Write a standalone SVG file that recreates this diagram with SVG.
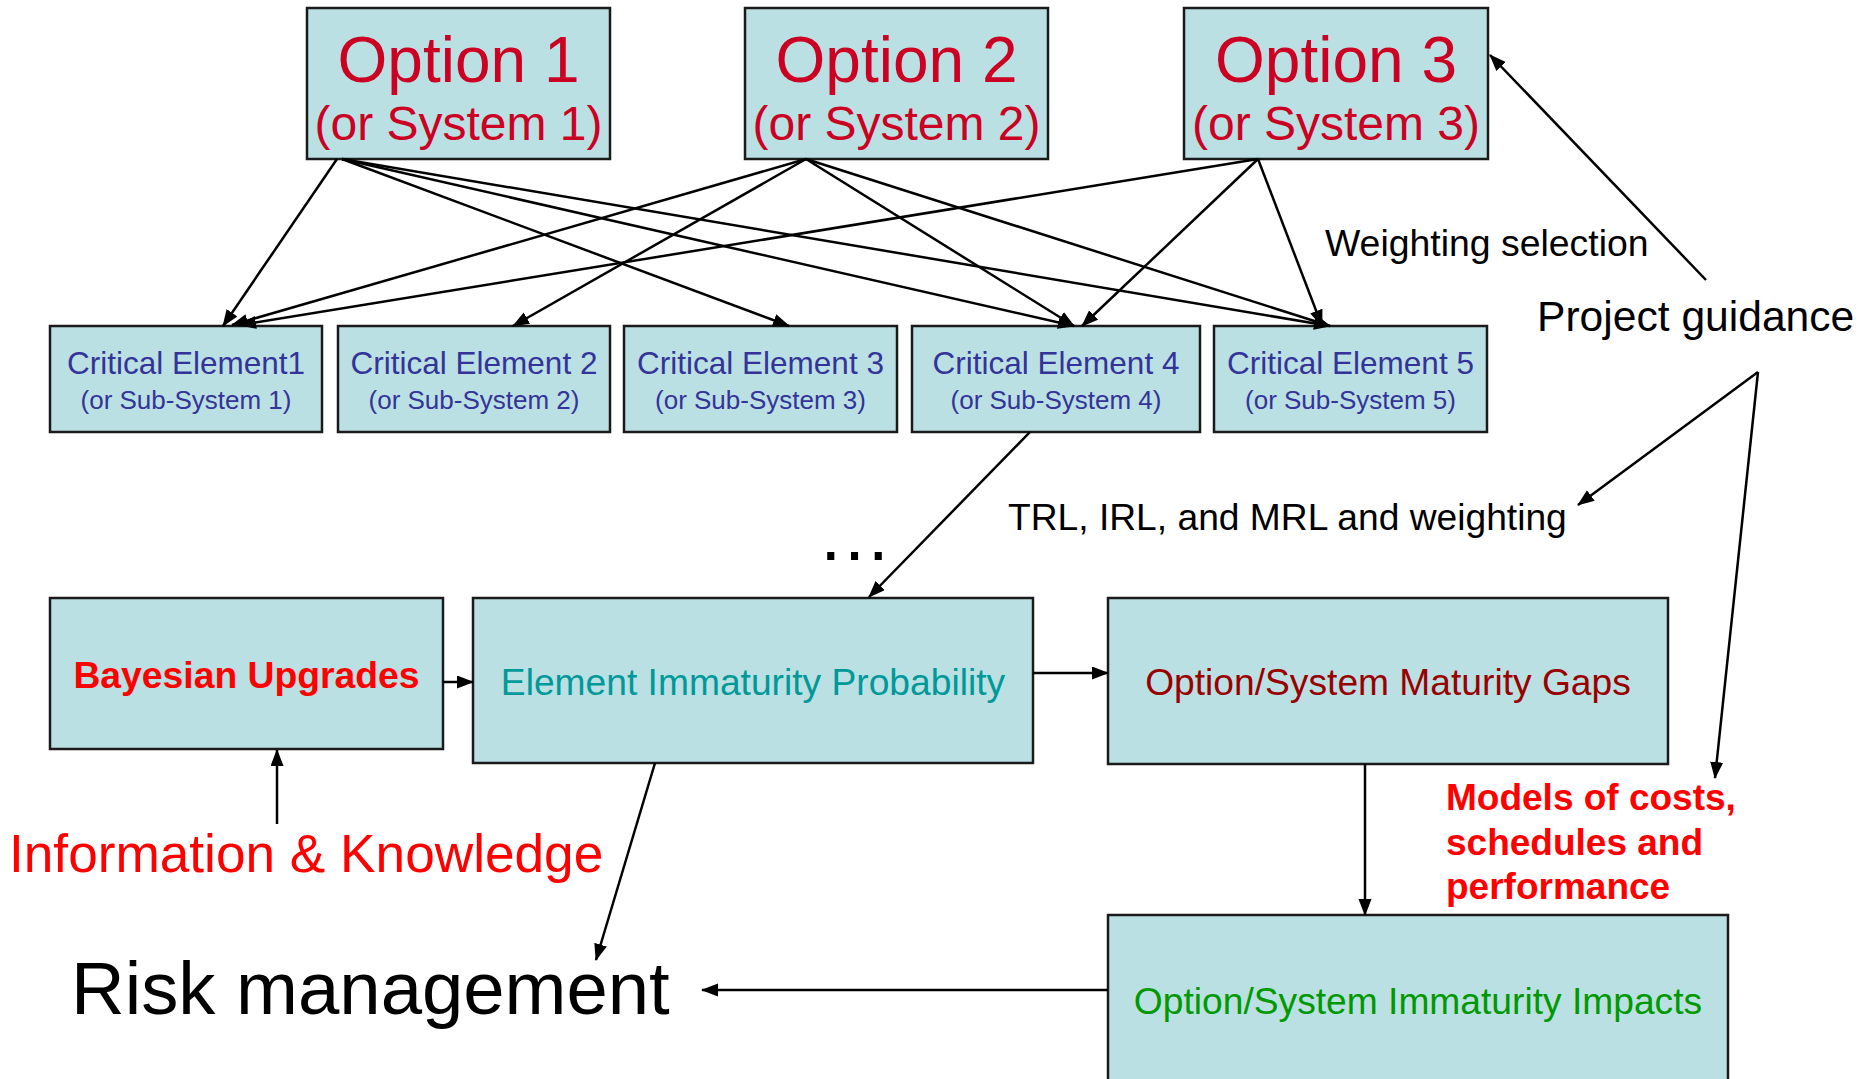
<svg xmlns="http://www.w3.org/2000/svg" width="1864" height="1079" viewBox="0 0 1864 1079">
  <style>
    .box { fill: #BBE0E3; stroke: #1a1a1a; stroke-width: 2.5; }
    .t { font-family: "Liberation Sans", Arial, sans-serif; }
    .opt { fill: #CC0022; text-anchor: middle; }
    .ce { fill: #333399; text-anchor: middle; }
    .lbl { fill: #000000; }
    .conn { stroke: #000000; stroke-width: 2.5; fill: none; marker-end: url(#arrow); }
  </style>
  <defs>
    <marker id="arrow" markerUnits="userSpaceOnUse" markerWidth="18" markerHeight="14" refX="16" refY="6.5" orient="auto">
      <path d="M0,0 L17,6.5 L0,13 z" fill="#000000"/>
    </marker>
  </defs>
  <rect x="0" y="0" width="1864" height="1079" fill="#FFFFFF"/>

  <!-- Options -->
  <g id="option1">
    <rect class="box" x="307" y="8" width="303" height="151"/>
    <text class="t opt" x="458.5" y="82" font-size="64">Option 1</text>
    <text class="t opt" x="458.5" y="140" font-size="48">(or System 1)</text>
  </g>
  <g id="option2">
    <rect class="box" x="745" y="8" width="303" height="151"/>
    <text class="t opt" x="896.5" y="82" font-size="64">Option 2</text>
    <text class="t opt" x="896.5" y="140" font-size="48">(or System 2)</text>
  </g>
  <g id="option3">
    <rect class="box" x="1184" y="8" width="304" height="151"/>
    <text class="t opt" x="1336" y="82" font-size="64">Option 3</text>
    <text class="t opt" x="1336" y="140" font-size="48">(or System 3)</text>
  </g>

  <!-- Critical elements -->
  <g id="ce1">
    <rect class="box" x="50" y="326" width="272" height="106"/>
    <text class="t ce" x="186" y="374" font-size="31.5">Critical Element1</text>
    <text class="t ce" x="186" y="409" font-size="26">(or Sub-System 1)</text>
  </g>
  <g id="ce2">
    <rect class="box" x="338" y="326" width="272" height="106"/>
    <text class="t ce" x="474" y="374" font-size="31.5">Critical Element 2</text>
    <text class="t ce" x="474" y="409" font-size="26">(or Sub-System 2)</text>
  </g>
  <g id="ce3">
    <rect class="box" x="624" y="326" width="273" height="106"/>
    <text class="t ce" x="760.5" y="374" font-size="31.5">Critical Element 3</text>
    <text class="t ce" x="760.5" y="409" font-size="26">(or Sub-System 3)</text>
  </g>
  <g id="ce4">
    <rect class="box" x="912" y="326" width="288" height="106"/>
    <text class="t ce" x="1056" y="374" font-size="31.5">Critical Element 4</text>
    <text class="t ce" x="1056" y="409" font-size="26">(or Sub-System 4)</text>
  </g>
  <g id="ce5">
    <rect class="box" x="1214" y="326" width="273" height="106"/>
    <text class="t ce" x="1350.5" y="374" font-size="31.5">Critical Element 5</text>
    <text class="t ce" x="1350.5" y="409" font-size="26">(or Sub-System 5)</text>
  </g>

  <!-- Process boxes -->
  <g id="bayesian">
    <rect class="box" x="50" y="598" width="393" height="151"/>
    <text class="t" x="246.5" y="688" font-size="37.3" font-weight="bold" fill="#FF0000" text-anchor="middle">Bayesian Upgrades</text>
  </g>
  <g id="eip">
    <rect class="box" x="473" y="598" width="560" height="165"/>
    <text class="t" x="753" y="695" font-size="37.2" fill="#009999" text-anchor="middle">Element Immaturity Probability</text>
  </g>
  <g id="osmg">
    <rect class="box" x="1108" y="598" width="560" height="166"/>
    <text class="t" x="1388" y="695" font-size="37.2" fill="#990000" text-anchor="middle">Option/System Maturity Gaps</text>
  </g>
  <g id="osii">
    <rect class="box" x="1108" y="915" width="620" height="180"/>
    <text class="t" x="1418" y="1014" font-size="37.2" fill="#009900" text-anchor="middle">Option/System Immaturity Impacts</text>
  </g>

  <!-- Free labels -->
  <g id="weighting-selection">
    <text class="t lbl" x="1325" y="256" font-size="37.4">Weighting selection</text>
  </g>
  <g id="project-guidance">
    <text class="t lbl" x="1537" y="331" font-size="42.6">Project guidance</text>
  </g>
  <g id="trl-label">
    <text class="t lbl" x="1008" y="530" font-size="37.2">TRL, IRL, and MRL and weighting</text>
  </g>
  <g id="ellipsis">
    <text class="t lbl" x="817" y="560" font-size="75">…</text>
  </g>
  <g id="models-label">
    <text class="t" x="1446" y="810" font-size="37" font-weight="bold" fill="#FF0000">Models of costs,</text>
    <text class="t" x="1446" y="855" font-size="37" font-weight="bold" fill="#FF0000">schedules and</text>
    <text class="t" x="1446" y="899" font-size="37" font-weight="bold" fill="#FF0000">performance</text>
  </g>
  <g id="information">
    <text class="t" x="9" y="872" font-size="53.2" fill="#FF0000">Information &amp; Knowledge</text>
  </g>
  <g id="risk">
    <text class="t lbl" x="71" y="1014" font-size="74.3">Risk management</text>
  </g>

  <!-- Connectors -->
  <g id="connectors">
    <!-- Option 1 -->
    <line class="conn" x1="337" y1="159" x2="223" y2="326"/>
    <line class="conn" x1="342" y1="159" x2="789" y2="326"/>
    <line class="conn" x1="342" y1="159" x2="1074" y2="326"/>
    <line class="conn" x1="342" y1="159" x2="1330" y2="326"/>
    <!-- Option 2 -->
    <line class="conn" x1="806" y1="159" x2="232" y2="325"/>
    <line class="conn" x1="806" y1="159" x2="513" y2="326"/>
    <line class="conn" x1="806" y1="159" x2="1074" y2="326"/>
    <line class="conn" x1="806" y1="159" x2="1330" y2="326"/>
    <!-- Option 3 -->
    <line class="conn" x1="1258" y1="159" x2="240" y2="325"/>
    <line class="conn" x1="1258" y1="159" x2="1082" y2="326"/>
    <line class="conn" x1="1258" y1="159" x2="1322" y2="326"/>
    <!-- Project guidance -->
    <line class="conn" x1="1706" y1="280" x2="1490" y2="55"/>
    <line class="conn" x1="1758" y1="372" x2="1578" y2="505"/>
    <line class="conn" x1="1758" y1="372" x2="1715" y2="778"/>
    <!-- Flow -->
    <line class="conn" x1="1030" y1="432" x2="869" y2="597"/>
    <line class="conn" x1="443" y1="682" x2="473" y2="682"/>
    <line class="conn" x1="1033" y1="673" x2="1108" y2="673"/>
    <line class="conn" x1="277" y1="824" x2="277" y2="750"/>
    <line class="conn" x1="655" y1="763" x2="596" y2="960"/>
    <line class="conn" x1="1365" y1="764" x2="1365" y2="915"/>
    <line class="conn" x1="1108" y1="990" x2="702" y2="990"/>
  </g>
</svg>
